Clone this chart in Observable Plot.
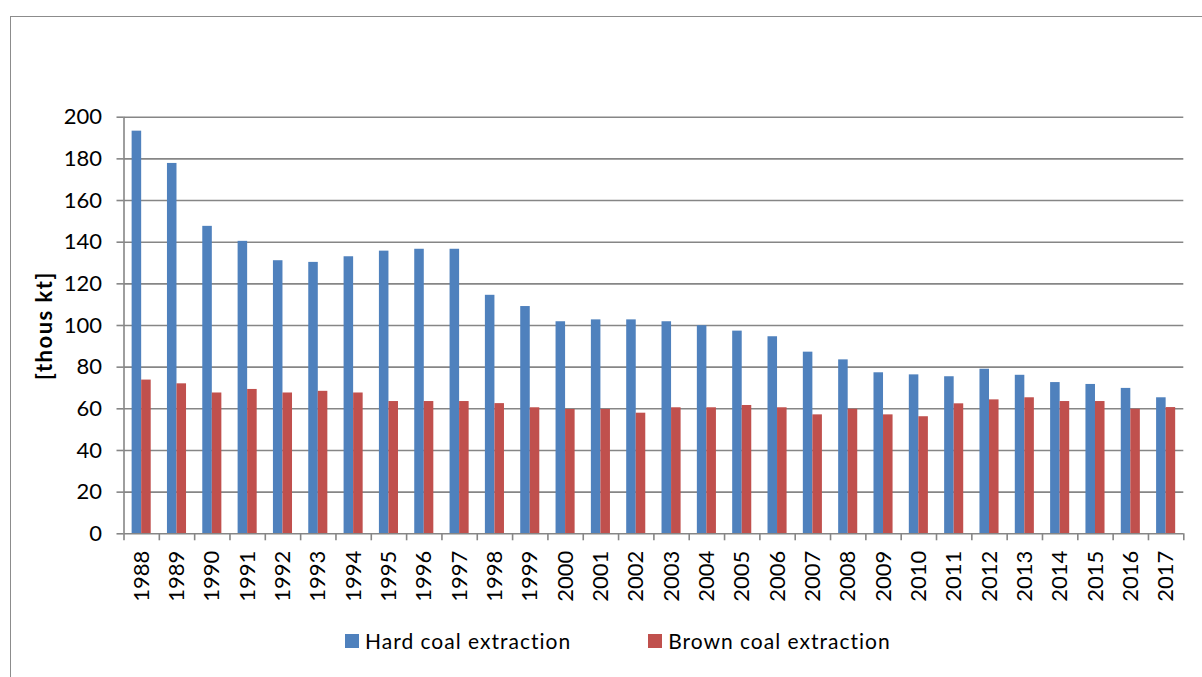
<!DOCTYPE html>
<html><head><meta charset="utf-8">
<script src="https://cdn.jsdelivr.net/npm/d3@7"></script>
<script src="https://cdn.jsdelivr.net/npm/@observablehq/plot@0.6"></script>
<style>
html,body{margin:0;padding:0;background:#fff;overflow:hidden;}
#wrap{position:relative;width:1202px;height:677px;overflow:hidden;}
#box{position:absolute;left:10px;top:16px;width:1400px;height:900px;border:1px solid #8c8c8c;pointer-events:none;z-index:2;}
#chart{position:absolute;left:0;top:0;}
#chart svg{display:block;}
g[aria-label="y-axis label"] text{font-weight:bold;letter-spacing:1.5px;}
#legend{position:absolute;left:345px;top:628px;display:flex;align-items:center;font-family:Lato,sans-serif;font-size:21px;letter-spacing:1px;color:#000;z-index:1;}
#legend .sw{width:14px;height:14px;display:inline-block;margin-right:6px;}
#legend .item{display:flex;align-items:center;}
#legend .item + .item{margin-left:77px;}
</style>
</head><body>
<div id="wrap"><div id="chart"></div><div id="legend"></div><div id="box"></div></div>
<script>
const years = [1988,1989,1990,1991,1992,1993,1994,1995,1996,1997,1998,1999,2000,2001,2002,2003,2004,2005,2006,2007,2008,2009,2010,2011,2012,2013,2014,2015,2016,2017];
const hardCoal = [193.3,177.8,147.6,140.4,131.1,130.3,133.0,135.7,136.6,136.6,114.5,109.1,101.8,102.7,102.7,101.8,99.9,97.3,94.6,87.2,83.5,77.3,76.3,75.4,79.0,76.1,72.6,71.7,69.8,65.3];
const brownCoal = [73.8,72.0,67.6,69.3,67.6,68.4,67.6,63.5,63.5,63.5,62.5,60.5,59.7,59.7,57.9,60.5,60.5,61.6,60.5,57.1,59.8,57.1,56.2,62.4,64.3,65.3,63.5,63.5,59.8,60.6];
const seriesNames = ["Hard coal extraction","Brown coal extraction"];
const seriesColors = ["#4F81BD","#C0504D"];
const yTicks = [0,20,40,60,80,100,120,140,160,180,200];
const yLabel = "[thous kt]";

const hardRows = years.map((year,i)=>({year, value: hardCoal[i]}));
const brownRows = years.map((year,i)=>({year, value: brownCoal[i]}));
const boundaries = years.map(y=>y-0.5).concat([years[years.length-1]+0.5]);
const half = 0.27;
const gray = "#868686";

const plot = Plot.plot({
  width: 1202,
  height: 677,
  marginLeft: 123.5,
  marginRight: 18.7,
  marginTop: 116.7,
  marginBottom: 143.7,
  style: {fontFamily: "Lato, sans-serif", fontSize: "22px", background: "transparent", color: "#000"},
  x: {type: "linear", domain: [years[0]-0.5, years[years.length-1]+0.5]},
  y: {domain: [0, 200]},
  marks: [
    Plot.gridY(yTicks.slice(1), {stroke: gray, strokeOpacity: 1, strokeWidth: 1.6}),
    Plot.rectY(hardRows, {x1: d=>d.year-half, x2: "year", y: "value", fill: seriesColors[0]}),
    Plot.rectY(brownRows, {x1: "year", x2: d=>d.year+half, y: "value", fill: seriesColors[1]}),
    Plot.ruleY([0], {stroke: gray, strokeWidth: 1.6}),
    Plot.ruleX([years[0]-0.5], {stroke: gray, strokeWidth: 1.6}),
    Plot.axisY({ticks: yTicks, tickSize: 7, tickPadding: 15, stroke: gray, strokeWidth: 1.6, fontSize: 22, label: yLabel, labelAnchor: "center", labelOffset: 88, labelArrow: "none"}),
    Plot.axisX(boundaries, {tickSize: 7, tickFormat: () => "", stroke: gray, strokeWidth: 1.6, label: null}),
    Plot.axisX(years, {tickSize: 0, tickPadding: 17, tickRotate: -90, tickFormat: d => String(d), fontSize: 22, label: null})
  ]
});
document.getElementById("chart").appendChild(plot);

const legend = document.getElementById("legend");
seriesNames.forEach((name,i)=>{
  const item = document.createElement("div");
  item.className = "item";
  const sw = document.createElement("span");
  sw.className = "sw";
  sw.style.background = seriesColors[i];
  const tx = document.createElement("span");
  tx.textContent = name;
  item.appendChild(sw); item.appendChild(tx);
  legend.appendChild(item);
});
</script>
</body></html>
